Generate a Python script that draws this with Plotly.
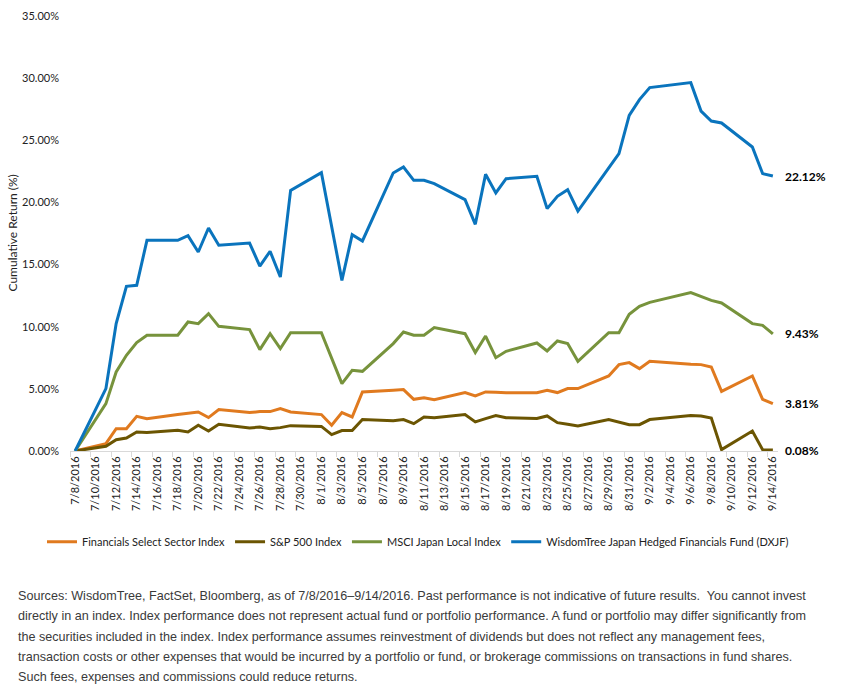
import plotly.graph_objects as go

dates = [
    "2016-07-08", "2016-07-11", "2016-07-12", "2016-07-13", "2016-07-14", "2016-07-15",
    "2016-07-18", "2016-07-19", "2016-07-20", "2016-07-21", "2016-07-22",
    "2016-07-25", "2016-07-26", "2016-07-27", "2016-07-28", "2016-07-29",
    "2016-08-01", "2016-08-02", "2016-08-03", "2016-08-04", "2016-08-05",
    "2016-08-08", "2016-08-09", "2016-08-10", "2016-08-11", "2016-08-12",
    "2016-08-15", "2016-08-16", "2016-08-17", "2016-08-18", "2016-08-19",
    "2016-08-22", "2016-08-23", "2016-08-24", "2016-08-25", "2016-08-26",
    "2016-08-29", "2016-08-30", "2016-08-31", "2016-09-01", "2016-09-02",
    "2016-09-06", "2016-09-07", "2016-09-08", "2016-09-09",
    "2016-09-12", "2016-09-13", "2016-09-14",
]

financials = [0, 0.59, 1.80, 1.80, 2.79, 2.60, 2.93, 3.01, 3.14, 2.69, 3.33, 3.09, 3.17, 3.17,
              3.41, 3.14, 2.93, 2.07, 3.09, 2.74, 4.75, 4.88, 4.94, 4.16, 4.29, 4.13, 4.70,
              4.43, 4.75, 4.72, 4.69, 4.69, 4.88, 4.70, 5.02, 5.02, 6.04, 6.95, 7.11, 6.63,
              7.22, 6.98, 6.95, 6.76, 4.80, 6.04, 4.16, 3.81]

sp500 = [0, 0.38, 0.91, 1.05, 1.53, 1.48, 1.67, 1.53, 2.07, 1.61, 2.15, 1.85, 1.93, 1.80,
         1.88, 2.04, 1.98, 1.32, 1.64, 1.64, 2.53, 2.44, 2.53, 2.20, 2.74, 2.68, 2.93, 2.34,
         2.61, 2.85, 2.68, 2.61, 2.82, 2.28, 2.15, 2.01, 2.53, 2.34, 2.12, 2.12, 2.53, 2.85,
         2.82, 2.66, 0.11, 1.61, 0.11, 0.08]

msci_japan = [0, 3.81, 6.36, 7.70, 8.72, 9.31, 9.31, 10.38, 10.25, 11.05, 10.03, 9.77, 8.16,
              9.44, 8.24, 9.52, 9.52, None, 5.42, 6.49, 6.41, 8.64, 9.57, 9.31, 9.31, 9.93,
              9.44, 7.92, 9.25, 7.51, 8.02, 8.69, 8.05, 8.85, 8.64, 7.22, 9.52, 9.52, 11.00,
              11.64, 11.96, 12.74, 12.44, 12.12, 11.91, 10.25, 10.11, 9.43]

dxjf = [0, 5.02, 10.25, 13.25, 13.33, 16.95, 16.95, 17.33, 16.01, 17.94, 16.55, 16.73, 14.88,
        16.07, 14.00, 20.97, 22.40, None, 13.73, 17.41, 16.90, 22.37, 22.85, 21.78, 21.78,
        21.51, 20.22, 18.24, 22.26, 20.76, 21.91, 22.10, 19.50, 20.49, 21.03, 19.31, 22.72,
        23.93, 27.00, 28.27, 29.24, 29.64, 27.35, 26.55, 26.39, 24.46, 22.32, 22.12]

series_names = ["Financials Select Sector Index", "S&P 500 Index",
                "MSCI Japan Local Index", "WisdomTree Japan Hedged Financials Fund (DXJF)"]
series_values = [financials, sp500, msci_japan, dxjf]
series_colors = ["#E07A1F", "#6B5502", "#77933C", "#0A74BD"]
end_labels = ["3.81%", "0.08%", "9.43%", "22.12%"]

footer_lines = [
    "Sources: WisdomTree, FactSet, Bloomberg, as of 7/8/2016–9/14/2016. Past performance is not indicative of future results.  You cannot invest",
    "directly in an index. Index performance does not represent actual fund or portfolio performance. A fund or portfolio may differ significantly from",
    "the securities included in the index. Index performance assumes reinvestment of dividends but does not reflect any management fees,",
    "transaction costs or other expenses that would be incurred by a portfolio or fund, or brokerage commissions on transactions in fund shares.",
    "Such fees, expenses and commissions could reduce returns.",
]

W, H = 841, 694
L, R, T, B = 70, 63, 16, 243
pw = W - L - R
ph = H - T - B

fig = go.Figure()
for name, vals, col in zip(series_names, series_values, series_colors):
    fig.add_trace(go.Scatter(x=dates, y=vals, name=name, mode="lines",
                             line=dict(color=col, width=3), connectgaps=True))

for vals, txt in zip(series_values, end_labels):
    fig.add_annotation(x=dates[-1], y=vals[-1], text=txt, showarrow=False,
                       xanchor="left", yanchor="middle", xshift=10,
                       font=dict(family="Lato", size=12, color="#000000", weight="bold"))

fig.add_annotation(xref="paper", yref="paper", x=(12 - L) / pw, y=0.5,
                   text="Cumulative Return (%)", textangle=-90, showarrow=False,
                   xanchor="center", yanchor="middle",
                   font=dict(family="Lato", size=12, color="#222222"))

line_y = [596, 616, 636.5, 657, 677]
for txt, yy in zip(footer_lines, line_y):
    fig.add_annotation(xref="paper", yref="paper", x=(16 - L) / pw,
                       y=(H - B - yy) / ph, text=txt, showarrow=False,
                       xanchor="left", yanchor="middle",
                       font=dict(family="Liberation Sans", size=12.6, color="#3a3a3a"))

fig.update_layout(
    width=W, height=H,
    margin=dict(l=L, r=R, t=T, b=B, autoexpand=False),
    paper_bgcolor="white", plot_bgcolor="white",
    font=dict(family="Lato", size=11, color="#222222"),
    showlegend=True,
    legend=dict(orientation="h", x=(42 - L) / pw, xanchor="left",
                y=(H - B - 541.7) / ph, yanchor="middle",
                font=dict(family="Lato", size=11, color="#222222"),
                itemwidth=30, tracegroupgap=0),
    xaxis=dict(
        type="date",
        range=["2016-07-07 12:00", "2016-09-14 12:00"],
        tick0="2016-07-08", dtick=2 * 86400000,
        tickformat="%-m/%-d/%Y", tickangle=-90,
        ticks="", showgrid=False, zeroline=False,
        showline=True, linecolor="#d9d9d9", linewidth=1,
        tickfont=dict(family="Lato", size=11, color="#222222"),
        minor=dict(tick0="2016-07-07 12:00", dtick=2 * 86400000, ticks="outside",
                   ticklen=5, tickcolor="#d9d9d9", showgrid=False),
    ),
    yaxis=dict(
        range=[0, 35], dtick=5, tick0=0,
        tickformat=".2f", ticksuffix="%",
        showgrid=False, zeroline=False, showline=False, ticks="",
        ticklabelstandoff=10,
        tickfont=dict(family="Lato", size=11, color="#222222"),
    ),
)

fig.write_html("out.html")
